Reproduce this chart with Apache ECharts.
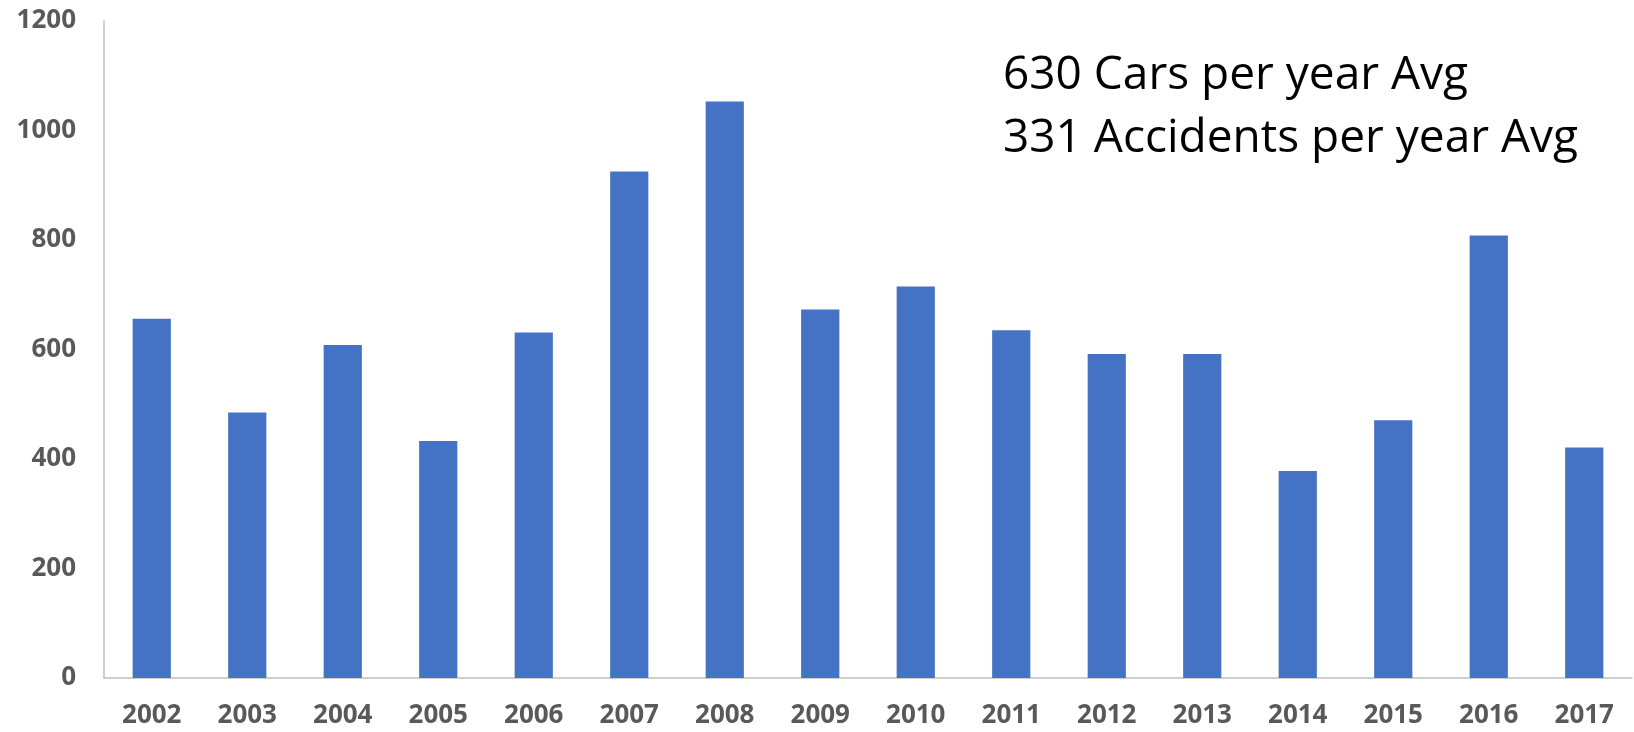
<!DOCTYPE html>
<html>
<head>
<meta charset="utf-8">
<script src="https://cdn.jsdelivr.net/npm/echarts@6/dist/echarts.min.js"></script>
<style>
html,body{margin:0;padding:0;background:#fff;}
#chart{width:1634px;height:732px;}
</style>
</head>
<body>
<div id="chart"></div>
<script>
const years = ['2002','2003','2004','2005','2006','2007','2008','2009','2010','2011','2012','2013','2014','2015','2016','2017'];
const cars = [656,485,608,433,631,925,1053,673,715,635,592,592,378,471,808,421];
const annotationLines = ['630 Cars per year Avg', '331 Accidents per year Avg'];

const chart = echarts.init(document.getElementById('chart'));
chart.setOption({
  backgroundColor: '#ffffff',
  animation: false,
  grid: {left: 104, right: 2, top: 21, bottom: 54},
  xAxis: {
    type: 'category',
    data: years,
    axisLine: {lineStyle: {color: '#bfbfbf', width: 1.5}},
    axisTick: {show: false},
    axisLabel: {color: '#595959', fontFamily: 'Open Sans', fontWeight: 'bold', fontSize: 26, margin: 25}
  },
  yAxis: {
    type: 'value',
    min: 0, max: 1200, interval: 200,
    axisLine: {show: true, lineStyle: {color: '#bfbfbf', width: 1.5}},
    axisTick: {show: false},
    splitLine: {show: false},
    axisLabel: {color: '#595959', fontFamily: 'Open Sans', fontWeight: 'bold', fontSize: 26, margin: 28,
      formatter: v => String(v)}
  },
  series: [{
    type: 'bar',
    data: cars,
    barWidth: '40%',
    itemStyle: {color: '#4472C4'}
  }],
  graphic: annotationLines.map((t, i) => ({
    type: 'text',
    x: 1003,
    y: 76 + i * 63,
    style: {text: t, font: '46px "Open Sans"', fill: '#000000', verticalAlign: 'middle'}
  }))
});
</script>
</body>
</html>
